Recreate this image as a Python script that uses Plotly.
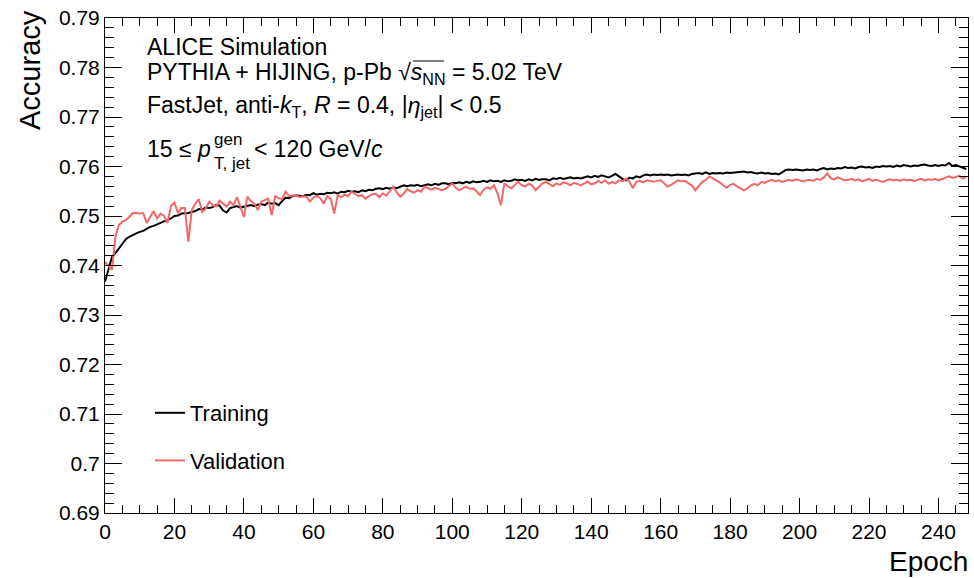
import plotly.graph_objects as go

epochs = list(range(249))

training = [
0.7367,0.7395,0.7417,0.7425,0.7435,0.7445,0.7453,0.7458,0.7462,0.7465,
0.7468,0.7470,0.7474,0.7478,0.7480,0.7483,0.7486,0.7490,0.7492,0.7495,
0.7500,0.7501,0.7505,0.7505,0.7506,0.7508,0.7510,0.7514,0.7513,0.7517,
0.7516,0.7518,0.7522,0.7521,0.7511,0.7507,0.7516,0.7518,0.7520,0.7517,
0.7519,0.7521,0.7522,0.7520,0.7523,0.7524,0.7522,0.7527,0.7525,0.7526,
0.7522,0.7530,0.7537,0.7536,0.7540,0.7542,0.7541,0.7540,0.7543,0.7542,
0.7546,0.7543,0.7545,0.7544,0.7547,0.7546,0.7548,0.7545,0.7549,0.7548,
0.7551,0.7549,0.7550,0.7548,0.7552,0.7550,0.7553,0.7552,0.7555,0.7556,
0.7554,0.7557,0.7555,0.7558,0.7556,0.7559,0.7562,0.7560,0.7562,0.7561,
0.7563,0.7560,0.7562,0.7564,0.7562,0.7565,0.7563,0.7566,0.7566,0.7564,
0.7567,0.7566,0.7568,0.7566,0.7569,0.7567,0.7570,0.7568,0.7569,0.7571,
0.7569,0.7572,0.7570,0.7571,0.7569,0.7572,0.7570,0.7571,0.7574,0.7572,
0.7573,0.7571,0.7574,0.7572,0.7575,0.7573,0.7574,0.7574,0.7572,0.7576,
0.7575,0.7577,0.7575,0.7576,0.7578,0.7576,0.7577,0.7576,0.7578,0.7580,
0.7578,0.7581,0.7579,0.7582,0.7580,0.7578,0.7581,0.7585,0.7580,0.7575,
0.7572,0.7577,0.7576,0.7580,0.7578,0.7582,0.7584,0.7582,0.7584,0.7583,
0.7584,0.7583,0.7584,0.7582,0.7583,0.7584,0.7583,0.7584,0.7582,0.7585,
0.7586,0.7587,0.7585,0.7588,0.7585,0.7587,0.7586,0.7587,0.7586,0.7588,
0.7587,0.7588,0.7589,0.7589,0.7590,0.7588,0.7589,0.7587,0.7586,0.7588,
0.7586,0.7587,0.7585,0.7586,0.7584,0.7588,0.7593,0.7594,0.7593,0.7594,
0.7593,0.7592,0.7594,0.7593,0.7594,0.7592,0.7595,0.7597,0.7594,0.7596,
0.7595,0.7597,0.7596,0.7599,0.7597,0.7598,0.7596,0.7599,0.7600,0.7598,
0.7599,0.7597,0.7600,0.7599,0.7601,0.7600,0.7601,0.7599,0.7602,0.7600,
0.7603,0.7601,0.7600,0.7602,0.7601,0.7603,0.7604,0.7602,0.7601,0.7603,
0.7601,0.7603,0.7602,0.7607,0.7601,0.7603,0.7600,0.7598,0.7595]

validation = [
0.7407,0.7400,0.7391,0.7458,0.7482,0.7488,0.7492,0.7498,0.7506,0.7506,
0.7505,0.7506,0.7486,0.7498,0.7510,0.7495,0.7505,0.7500,0.7486,0.7520,
0.7527,0.7506,0.7516,0.7516,0.7448,0.7512,0.7525,0.7534,0.7508,0.7515,
0.7529,0.7522,0.7519,0.7531,0.7525,0.7519,0.7529,0.7522,0.7538,0.7520,
0.7498,0.7539,0.7530,0.7525,0.7512,0.7529,0.7532,0.7535,0.7502,0.7540,
0.7536,0.7534,0.7549,0.7540,0.7541,0.7542,0.7538,0.7540,0.7539,0.7529,
0.7537,0.7540,0.7536,0.7525,0.7540,0.7535,0.7505,0.7542,0.7538,0.7543,
0.7540,0.7549,0.7545,0.7540,0.7542,0.7535,0.7540,0.7544,0.7545,0.7538,
0.7546,0.7541,0.7550,0.7559,0.7548,0.7539,0.7545,0.7555,0.7550,0.7547,
0.7552,0.7549,0.7559,0.7556,0.7553,0.7557,0.7555,0.7552,0.7555,0.7560,
0.7566,0.7557,0.7552,0.7556,0.7559,0.7555,0.7556,0.7550,0.7542,0.7553,
0.7558,0.7555,0.7562,0.7546,0.7522,0.7566,0.7560,0.7556,0.7563,0.7569,
0.7562,0.7560,0.7565,0.7562,0.7552,0.7560,0.7566,0.7569,0.7564,0.7560,
0.7566,0.7563,0.7568,0.7566,0.7562,0.7567,0.7565,0.7562,0.7566,0.7570,
0.7564,0.7566,0.7571,0.7567,0.7572,0.7565,0.7569,0.7566,0.7572,0.7570,
0.7575,0.7569,0.7556,0.7569,0.7571,0.7568,0.7572,0.7570,0.7569,0.7571,
0.7572,0.7566,0.7559,0.7563,0.7568,0.7572,0.7570,0.7571,0.7566,0.7562,
0.7552,0.7560,0.7569,0.7573,0.7580,0.7576,0.7572,0.7568,0.7562,0.7557,
0.7563,0.7565,0.7560,0.7556,0.7552,0.7556,0.7562,0.7565,0.7562,0.7569,
0.7567,0.7571,0.7573,0.7570,0.7572,0.7569,0.7571,0.7573,0.7571,0.7574,
0.7572,0.7570,0.7572,0.7573,0.7571,0.7575,0.7573,0.7578,0.7586,0.7576,
0.7574,0.7578,0.7575,0.7572,0.7573,0.7575,0.7572,0.7574,0.7570,0.7572,
0.7575,0.7571,0.7573,0.7571,0.7569,0.7572,0.7574,0.7572,0.7573,0.7571,
0.7574,0.7572,0.7573,0.7571,0.7573,0.7575,0.7572,0.7574,0.7573,0.7575,
0.7572,0.7575,0.7578,0.7580,0.7577,0.7579,0.7581,0.7576,0.7578]

series_names = ["Training", "Validation"]
series_colors = ["#000000", "#f26868"]

W, H = 974, 578
L, R, T, B = 105, 968, 18, 513
FONT = "Liberation Sans, Arial, Helvetica, sans-serif"

def px(x):
    return (x - L) / (R - L)

def py(y):
    return (B - y) / (B - T)

fig = go.Figure()
for i, (name, vals) in enumerate(zip(series_names, [training, validation])):
    fig.add_trace(go.Scatter(
        x=epochs, y=vals, mode="lines", name=name,
        line=dict(color=series_colors[i], width=2),
        legendgroup=name,
    ))

axis_common = dict(
    showgrid=False, zeroline=False, showline=True, linecolor="black",
    linewidth=1, mirror="ticks", ticks="inside", tickcolor="black",
    tickfont=dict(family=FONT, size=21, color="black"),
)

fig.update_xaxes(range=[0, 248.5], dtick=20, tick0=0, ticklen=15, tickwidth=1,
                 minor=dict(dtick=5, ticks="inside", ticklen=8, tickcolor="black"),
                 **axis_common)
fig.update_yaxes(range=[0.69, 0.79], dtick=0.01, tick0=0.69, ticklen=17, tickwidth=1,
                 minor=dict(dtick=0.002, ticks="inside", ticklen=9, tickcolor="black"),
                 **axis_common)

ann = []
ann.append(dict(text="Accuracy", x=px(30), y=py(70), textangle=-90, xanchor="center",
                font=dict(family=FONT, size=29, color="black")))
ann.append(dict(text="Epoch", x=px(970), y=py(561), xanchor="right",
                font=dict(family=FONT, size=28, color="black")))

tf = dict(family=FONT, size=23, color="black")
sf = dict(family=FONT, size=17, color="black")
ann.append(dict(text="ALICE Simulation", x=px(145), y=py(47), xanchor="left", font=tf))
ann.append(dict(text="PYTHIA + HIJING, p-Pb √<i>s</i><sub>NN</sub> = 5.02 TeV",
                x=px(145), y=py(74), xanchor="left", font=tf))
ann.append(dict(text="FastJet, anti-<i>k</i><sub>T</sub>, <i>R</i> = 0.4, |<i>η</i><sub>jet</sub>| &lt; 0.5",
                x=px(145), y=py(106), xanchor="left", font=tf))
ann.append(dict(text="15 ≤ <i>p</i>", x=px(145), y=py(149), xanchor="left", font=tf))
ann.append(dict(text="gen", x=px(212), y=py(139), xanchor="left", font=sf))
ann.append(dict(text="T, jet", x=px(212), y=py(163), xanchor="left", font=sf))
ann.append(dict(text="&lt; 120 GeV/<i>c</i>", x=px(252), y=py(149), xanchor="left", font=tf))

for a in ann:
    a.update(xref="paper", yref="paper", showarrow=False, yanchor=a.get("yanchor", "middle"))

# overline of the square root
fig.add_shape(type="line", xref="paper", yref="paper",
              x0=px(413), x1=px(444), y0=py(61), y1=py(61),
              line=dict(color="black", width=1))

fig.update_layout(
    width=W, height=H,
    margin=dict(l=L, r=W - R, t=T, b=H - B),
    paper_bgcolor="white", plot_bgcolor="white",
    annotations=ann,
    showlegend=True,
    legend=dict(x=px(150), y=py(392), xanchor="left", yanchor="top",
                font=dict(family=FONT, size=22, color="black"),
                bgcolor="rgba(0,0,0,0)", traceorder="grouped",
                tracegroupgap=16, itemwidth=30),
    font=dict(family=FONT),
)

fig.write_html("out.html")
